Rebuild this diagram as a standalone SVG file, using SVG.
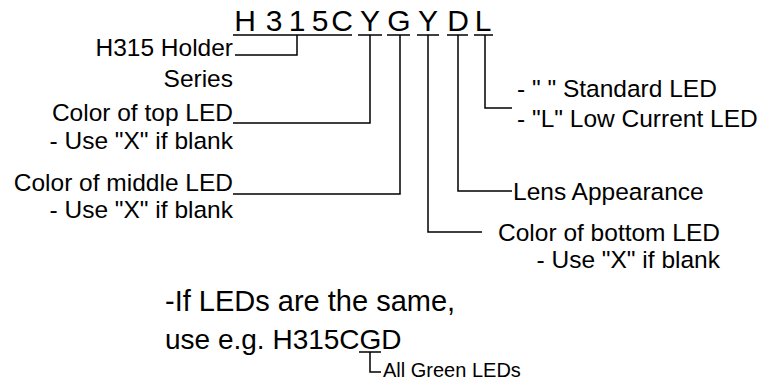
<svg xmlns="http://www.w3.org/2000/svg" width="772" height="384" viewBox="0 0 772 384">
<style>
text{font-family:"Liberation Sans",Arial,sans-serif;fill:#000}
.t{font-size:30px;text-anchor:middle}
.l{font-size:24.5px}
.e{text-anchor:end}
.b{font-size:29px}
.b2{font-size:28px}
.s{font-size:20px}
.c{fill:none;stroke:#000;stroke-width:1.5}
</style>
<rect width="772" height="384" fill="#fff"/>
<g id="title">
<text class="t" x="245" y="31">H</text>
<text class="t" x="274" y="31">3</text>
<text class="t" x="297" y="31">1</text>
<text class="t" x="320" y="31">5</text>
<text class="t" x="342" y="31">C</text>
<text class="t" x="370" y="31">Y</text>
<text class="t" x="399" y="31">G</text>
<text class="t" x="428" y="31">Y</text>
<text class="t" x="458" y="31">D</text>
<text class="t" x="483" y="31">L</text>
<path class="c" d="M233,35H352M358,35H382M387,35H410M417,35H439M447,35H468M474,35H493"/>
</g>
<g id="connectors">
<path class="c" d="M297,35V55H235"/>
<path class="c" d="M370,35V123H233"/>
<path class="c" d="M400,35V194H233"/>
<path class="c" d="M428,35V232H482"/>
<path class="c" d="M458,35V191H512"/>
<path class="c" d="M485,35V108H512"/>
<path class="c" d="M359,352H381M370,352V372H381"/>
</g>
<g id="holder"><text class="l e" x="233" y="56">H315 Holder</text><text class="l e" x="233" y="87">Series</text></g>
<g id="top-led"><text class="l e" x="233" y="121">Color of top LED</text><text class="l e" x="233" y="149">- Use "X" if blank</text></g>
<g id="middle-led"><text class="l e" x="233" y="191">Color of middle LED</text><text class="l e" x="233" y="218">- Use "X" if blank</text></g>
<g id="current"><text class="l" x="517" y="97">- " " Standard LED</text><text class="l" x="517" y="127">- "L" Low Current LED</text></g>
<g id="lens"><text class="l" x="513" y="200">Lens Appearance</text></g>
<g id="bottom-led"><text class="l e" x="720" y="241">Color of bottom LED</text><text class="l e" x="720" y="268">- Use "X" if blank</text></g>
<g id="note"><text class="b" x="165" y="311">-If LEDs are the same,</text><text class="b2" x="165" y="349">use e.g. H315CGD</text></g>
<g id="green"><text class="s" x="383" y="377">All Green LEDs</text></g>
</svg>
